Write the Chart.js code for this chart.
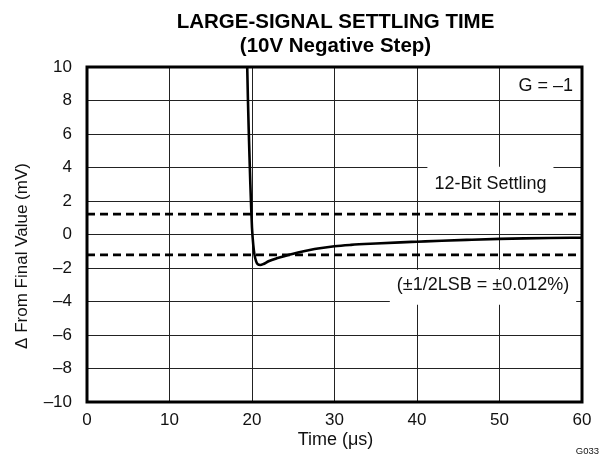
<!DOCTYPE html>
<html>
<head>
<meta charset="utf-8">
<script src="https://cdn.jsdelivr.net/npm/chart.js@4/dist/chart.umd.min.js"></script>
<style>
body { margin: 0; background: #fff; }
#wrap { width: 600px; height: 470px; }
</style>
</head>
<body>
<div id="wrap"><canvas id="c" width="600" height="470"></canvas></div>
<script>
// settling response (time in us, error in mV)
var timeUs = [19.4, 19.5, 19.6, 19.7, 19.8, 19.9, 20.0, 20.15, 20.3, 20.5, 20.7, 21.0, 21.4, 22.0, 23.0, 24.0, 25.0, 26.0, 27.0, 28.0, 30.0, 32.0, 35.0, 38.0, 40.0, 43.0, 46.0, 50.0, 53.0, 56.0, 60.0];
var errMv  = [10.5, 8.2, 6.3, 4.6, 3.0, 1.6, 0.4, -0.6, -1.2, -1.6, -1.78, -1.82, -1.76, -1.6, -1.42, -1.28, -1.15, -1.03, -0.93, -0.84, -0.7, -0.62, -0.54, -0.47, -0.43, -0.37, -0.32, -0.26, -0.23, -0.21, -0.19];
var bandMv = 1.22;
var xTicks = [0, 10, 20, 30, 40, 50, 60];
var yTicks = [10, 8, 6, 4, 2, 0, -2, -4, -6, -8, -10];

function minus(v) { return v < 0 ? '\u2013' + Math.abs(v) : '' + v; }

var font = '"Liberation Sans", Arial, sans-serif';

var curve = timeUs.map(function(t, i) { return { x: t, y: errMv[i] }; });

// text boxes inside the plot (x, y in data units); boxes hide the grid behind them
var notes = [
    { text: 'G = \u20131', x: 58.9, y: 8.87, align: 'right', box: null },
    { text: '12-Bit Settling', x: 48.9, y: 3.0, align: 'center', box: [17.5, 34] },
    { text: '(\u00b11/2LSB = \u00b10.012%)', x: 48.0, y: -3.0, align: 'center', box: [15, 35] }
];

var extras = {
    id: 'extras',
    beforeDatasetsDraw: function(chart) {
        var ctx = chart.ctx, xs = chart.scales.x, ys = chart.scales.y;
        ctx.save();
        ctx.font = '18px ' + font;
        ctx.textBaseline = 'middle';
        notes.forEach(function(n) {
            var px = xs.getPixelForValue(n.x), py = ys.getPixelForValue(n.y);
            var w = ctx.measureText(n.text).width;
            if (n.box) {
                var left = n.align === 'center' ? px - w / 2 : px - w;
                ctx.fillStyle = '#fff';
                ctx.fillRect(left - 7, py - n.box[0], w + 14, n.box[1]);
            }
            ctx.fillStyle = '#111';
            ctx.textAlign = n.align;
            ctx.fillText(n.text, px, py);
        });
        ctx.restore();
    },
    afterDraw: function(chart) {
        var ctx = chart.ctx, a = chart.chartArea;
        var cx = (a.left + a.right) / 2;
        ctx.save();
        ctx.strokeStyle = '#000';
        ctx.lineWidth = 3;
        ctx.strokeRect(a.left, a.top, a.right - a.left, a.bottom - a.top);
        ctx.fillStyle = '#000';
        ctx.textAlign = 'center';
        ctx.textBaseline = 'middle';
        ctx.font = 'bold 20.5px ' + font;
        ctx.fillText('LARGE-SIGNAL SETTLING TIME', cx + 1, 22);
        ctx.fillText('(10V Negative Step)', cx + 1, 46);
        ctx.font = '18px ' + font;
        ctx.fillStyle = '#111';
        ctx.fillText('Time (\u03bcs)', cx + 1, 440);
        ctx.save();
        ctx.translate(22, 256);
        ctx.rotate(-Math.PI / 2);
        ctx.font = '17px ' + font;
        ctx.fillText('\u0394 From Final Value (mV)', 0, 0);
        ctx.restore();
        ctx.font = '9.5px ' + font;
        ctx.textAlign = 'right';
        ctx.fillText('G033', 599, 451);
        ctx.restore();
    }
};

new Chart(document.getElementById('c'), {
    type: 'line',
    data: {
        datasets: [
            { data: curve, borderColor: '#000', borderWidth: 2.6, pointRadius: 0, tension: 0.2, cubicInterpolationMode: 'monotone' },
            { data: [{ x: 0, y: bandMv }, { x: 60, y: bandMv }], borderColor: '#000', borderWidth: 2.8, borderDash: [8, 5], pointRadius: 0 },
            { data: [{ x: 0, y: -bandMv }, { x: 60, y: -bandMv }], borderColor: '#000', borderWidth: 2.8, borderDash: [8, 5], pointRadius: 0 }
        ]
    },
    options: {
        responsive: false,
        animation: false,
        layout: { padding: { top: 67, right: 18, bottom: 0, left: 0 } },
        plugins: { legend: { display: false }, tooltip: { enabled: false }, title: { display: false } },
        scales: {
            x: {
                type: 'linear', min: 0, max: 60,
                afterBuildTicks: function(s) { s.ticks = xTicks.map(function(v) { return { value: v }; }); },
                afterFit: function(s) { s.height = 68; },
                grid: { color: '#222', lineWidth: 1, drawTicks: false },
                border: { display: false },
                ticks: { color: '#111', padding: 8, font: { family: font, size: 17 }, callback: function(v) { return minus(v); } }
            },
            y: {
                type: 'linear', min: -10, max: 10,
                afterBuildTicks: function(s) { s.ticks = yTicks.map(function(v) { return { value: v }; }); },
                afterFit: function(s) { s.width = 87; },
                grid: { color: '#222', lineWidth: 1, drawTicks: false },
                border: { display: false },
                ticks: { color: '#111', padding: 15, font: { family: font, size: 17 }, callback: function(v) { return minus(v); } }
            }
        }
    },
    plugins: [extras]
});
</script>
</body>
</html>
